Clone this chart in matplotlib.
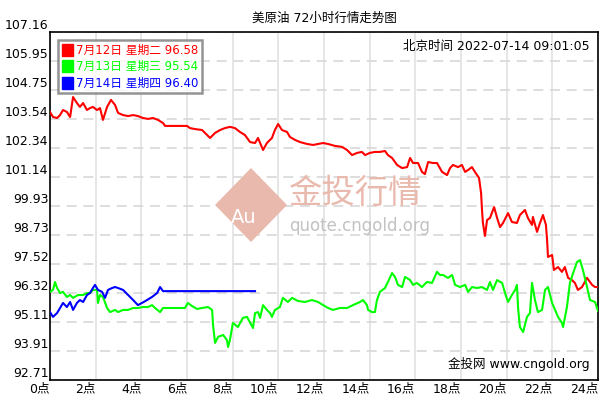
import matplotlib
matplotlib.use("Agg")
import matplotlib.pyplot as plt
from matplotlib.patches import Patch, Polygon
import numpy as np

plt.rcParams['font.family'] = ['DejaVu Sans', 'Noto Sans CJK SC']

# ===== DATA (hour of day, price) =====
red_hours = [0, 0.13, 0.31, 0.44, 0.57, 0.74, 0.88, 1.01, 1.18, 1.31, 1.45, 1.62, 1.75, 1.88, 2.06, 2.19,
             2.32, 2.50, 2.67, 2.85, 2.98, 3.20, 3.42, 3.64, 3.85, 4.07, 4.29, 4.51, 4.73, 4.95, 5.04, 6.00,
             6.13, 6.35, 6.66, 7.01, 7.23, 7.45, 7.66, 7.88, 8.10, 8.32, 8.54, 8.76, 8.98, 9.11, 9.33, 9.50,
             9.72, 9.85, 9.99, 10.16, 10.38, 10.51, 10.73, 10.95, 11.26, 11.52, 11.74, 11.96, 12.18, 12.48,
             12.79, 13.01, 13.23, 13.45, 13.66, 13.80, 14.01, 14.23, 14.45, 14.67, 14.80, 14.98, 15.20, 15.42,
             15.64, 15.77, 15.90, 16.12, 16.29, 16.42, 16.56, 16.77, 16.95, 17.17, 17.39, 17.52, 17.65, 17.87,
             18.04, 18.18, 18.31, 18.48, 18.61, 18.79, 18.88, 18.92, 18.96, 19.05, 19.14, 19.27, 19.45, 19.58,
             19.71, 19.84, 20.06, 20.23, 20.45, 20.58, 20.80, 20.93, 21.11, 21.15, 21.33, 21.46, 21.59, 21.72,
             21.77, 21.81, 21.99, 22.07, 22.25, 22.42, 22.55, 22.69, 22.86, 22.99, 23.12, 23.30, 23.52, 23.74,
             23.87, 24.0]
red_prices = [103.84, 103.63, 103.59, 103.71, 103.92, 103.84, 103.63, 104.46, 104.21, 104.05, 104.21, 103.92,
              104.00, 104.05, 103.92, 104.00, 103.51, 104.05, 104.34, 104.13, 103.80, 103.71, 103.67, 103.71,
              103.67, 103.59, 103.55, 103.59, 103.51, 103.38, 103.26, 103.26, 103.17, 103.13, 103.09, 102.76,
              102.97, 103.09, 103.17, 103.22, 103.17, 103.01, 102.88, 102.59, 102.55, 102.76, 102.26, 102.55,
              102.76, 103.09, 103.34, 103.09, 103.01, 102.80, 102.68, 102.59, 102.51, 102.47, 102.51, 102.55,
              102.51, 102.43, 102.39, 102.26, 102.05, 102.14, 102.18, 102.05, 102.14, 102.18, 102.18, 102.22,
              102.05, 101.93, 101.64, 101.51, 101.55, 101.93, 101.72, 101.72, 101.35, 101.26, 101.76, 101.72,
              101.72, 101.35, 101.22, 101.51, 101.64, 101.55, 101.64, 101.35, 101.43, 101.55, 101.35, 101.10,
              100.47, 99.77, 99.23, 98.69, 99.35, 99.44, 99.89, 99.44, 99.06, 99.23, 99.64, 99.27, 99.23, 99.56,
              99.77, 99.44, 99.15, 99.48, 98.86, 99.23, 99.56, 99.15, 98.52, 97.82, 97.90, 97.28, 97.40, 97.20,
              97.40, 96.95, 96.86, 96.74, 96.45, 96.57, 96.95, 96.66, 96.57, 96.57]

green_hours = [0, 0.13, 0.22, 0.31, 0.44, 0.57, 0.74, 0.88, 1.01, 1.23, 1.45, 1.62, 1.75, 1.88, 2.06, 2.10,
               2.19, 2.32, 2.50, 2.63, 2.85, 2.98, 3.20, 3.42, 3.64, 3.85, 4.07, 4.29, 4.47, 4.60, 4.82, 4.95,
               5.34, 5.91, 6.04, 6.22, 6.44, 6.66, 6.92, 7.10, 7.14, 7.23, 7.36, 7.58, 7.75, 7.80, 7.88, 8.01,
               8.23, 8.45, 8.63, 8.89, 8.98, 9.11, 9.20, 9.33, 9.50, 9.64, 9.72, 9.85, 10.07, 10.20, 10.42,
               10.60, 10.86, 11.17, 11.47, 11.74, 11.96, 12.18, 12.39, 12.70, 13.01, 13.27, 13.58, 13.71, 13.88,
               13.93, 14.10, 14.23, 14.32, 14.45, 14.67, 14.80, 14.98, 15.11, 15.24, 15.42, 15.55, 15.77, 15.90,
               16.07, 16.29, 16.51, 16.73, 16.95, 17.08, 17.21, 17.43, 17.61, 17.74, 17.96, 18.18, 18.31, 18.48,
               18.70, 18.92, 19.14, 19.27, 19.40, 19.58, 19.80, 19.93, 20.06, 20.23, 20.37, 20.45, 20.50, 20.58,
               20.72, 20.89, 21.02, 21.11, 21.24, 21.37, 21.55, 21.68, 21.81, 21.99, 22.12, 22.25, 22.42, 22.47,
               22.64, 22.77, 22.91, 23.08, 23.21, 23.34, 23.52, 23.65, 23.87, 24.0]
green_prices = [96.37, 96.45, 96.78, 96.53, 96.32, 96.37, 96.16, 96.24, 96.12, 96.24, 96.24, 96.32, 96.32,
                96.45, 96.45, 95.91, 96.24, 96.16, 95.70, 95.53, 95.62, 95.53, 95.62, 95.62, 95.70, 95.70,
                95.74, 95.74, 95.82, 95.70, 95.53, 95.70, 95.70, 95.70, 95.91, 95.78, 95.66, 95.70, 95.74,
                95.62, 95.00, 94.25, 94.50, 94.58, 94.37, 94.08, 94.37, 95.08, 94.91, 95.29, 95.33, 94.87,
                95.49, 95.53, 95.29, 95.82, 95.62, 95.49, 95.33, 95.62, 95.74, 96.12, 95.95, 96.12, 95.99,
                95.95, 96.03, 95.95, 95.82, 95.70, 95.62, 95.70, 95.70, 95.82, 95.95, 96.03, 95.82, 95.62,
                95.53, 95.53, 96.03, 96.37, 96.53, 96.78, 97.15, 96.99, 96.66, 96.57, 96.99, 96.86, 96.66,
                96.74, 96.57, 96.78, 96.74, 97.20, 97.07, 97.07, 96.95, 97.07, 96.66, 96.57, 96.66, 96.37,
                96.57, 96.53, 96.57, 96.45, 96.78, 96.45, 96.86, 96.74, 96.32, 95.95, 96.24, 96.45, 96.66,
                95.70, 94.91, 94.70, 95.33, 95.49, 96.74, 96.03, 95.53, 95.62, 96.45, 96.57, 95.91, 95.62,
                95.33, 95.08, 94.91, 95.74, 96.74, 97.15, 97.61, 97.69, 97.28, 96.57, 96.03, 95.95, 95.58]

blue_hours = [0, 0.13, 0.31, 0.44, 0.57, 0.74, 0.88, 1.01, 1.18, 1.31, 1.45, 1.62, 1.75, 1.88, 1.97, 2.10,
              2.28, 2.41, 2.54, 2.72, 2.85, 2.98, 3.20, 3.42, 3.64, 3.85, 4.03, 4.25, 4.47, 4.69, 4.82, 4.95,
              8.98]
blue_prices = [95.53, 95.33, 95.49, 95.70, 95.91, 95.74, 95.95, 95.62, 95.91, 96.03, 95.95, 96.24, 96.32,
               96.53, 96.66, 96.45, 96.37, 96.12, 96.45, 96.53, 96.57, 96.53, 96.45, 96.24, 96.03, 95.82,
               95.91, 96.03, 96.16, 96.32, 96.57, 96.40, 96.40]

series_labels = ["7月12日 星期二 96.58", "7月13日 星期三 95.54", "7月14日 星期四 96.40"]
series_colors = ["#ff0000", "#00ff00", "#0000ff"]

y_ticks = [92.71, 93.91, 95.11, 96.32, 97.52, 98.73, 99.93, 101.14, 102.34, 103.54, 104.75, 105.95, 107.16]
x_ticks = list(range(0, 25, 2))
x_labels = [f"{h}点" for h in x_ticks]


# ===== FIGURE =====
fig = plt.figure(figsize=(6.07, 4.03), dpi=100)
ax = fig.add_axes([50 / 607, 1 - 380 / 403, 548 / 607, 348 / 403])

ax.plot(red_hours, red_prices, color=series_colors[0], lw=1.5, zorder=3)
ax.plot(green_hours, green_prices, color=series_colors[1], lw=1.5, zorder=4)
ax.plot(blue_hours, blue_prices, color=series_colors[2], lw=1.5, zorder=5)

ax.set_xlim(0, 24)
ax.set_ylim(y_ticks[0], y_ticks[-1])

ax.set_xticks(x_ticks)
ax.set_xticklabels(x_labels, ha="right", fontsize=9)
ax.set_yticks(y_ticks)
ax.set_yticklabels([f"{v:.2f}" for v in y_ticks], fontsize=9, va="bottom")
ax.tick_params(axis="both", length=0)
ax.tick_params(axis="y", pad=1)
ax.tick_params(axis="x", pad=2)

ax.grid(axis="y", color="#d8d8d8", ls=(0, (6, 4)), lw=1.2, zorder=0)
ax.grid(axis="x", color="#e2e2e2", ls="-", lw=1.2, zorder=0)
for sp in ax.spines.values():
    sp.set_color("black")
    sp.set_linewidth(1.2)

# title and notes
fig.text(324 / 607, 1 - 18 / 403, "美原油 72小时行情走势图", ha="center", va="center", fontsize=9)
ax.text(0.985, 0.957, "北京时间 2022-07-14 09:01:05", transform=ax.transAxes,
        ha="right", va="center", fontsize=9)
ax.text(0.985, 0.046, "金投网 www.cngold.org", transform=ax.transAxes,
        ha="right", va="center", fontsize=9)

# watermark
cx, cy, hw, hh = 251 / 607, 1 - 205 / 403, 36 / 607, 37 / 403
fig.patches.append(Polygon([[cx - hw, cy], [cx, cy + hh], [cx + hw, cy], [cx, cy - hh]],
                           closed=True, transform=fig.transFigure, facecolor="#e9b9ad",
                           edgecolor="none", zorder=1))
t = np.linspace(0, 1, 30)
fig.lines.append(plt.Line2D(cx - 0.2 * hw + 0.9 * hw * np.sin(t * 2.4),
                            cy + 0.75 * hh - 1.3 * hh * t ** 1.3,
                            transform=fig.transFigure, color="white", lw=2.5, zorder=1))
fig.text(cx - 0.2 * hw, cy - 0.35 * hh, "Au", color="white", fontsize=14,
         ha="center", va="center", zorder=2)
fig.text(288 / 607, 1 - 193 / 403, "金投行情", color="#e9b9ad", fontsize=24,
         ha="left", va="center", zorder=1)
fig.text(289 / 607, 1 - 226 / 403, "quote.cngold.org", color="#c2c2c2", fontsize=12,
         ha="left", va="center", zorder=1)

# legend
handles = [Patch(facecolor=c, edgecolor=c) for c in series_colors]
leg = ax.legend(handles, series_labels, loc="upper left", bbox_to_anchor=(0.0146, 0.977),
                fontsize=8.5, frameon=True, fancybox=False, handlelength=0.95, handleheight=1.2,
                handletextpad=0.25, labelspacing=0.3, borderpad=0.3, borderaxespad=0)
leg.get_frame().set_edgecolor("#7a7a7a")
leg.get_frame().set_linewidth(1.8)
for txt, c in zip(leg.get_texts(), series_colors):
    txt.set_color(c)

plt.savefig("out.png", dpi=100)
